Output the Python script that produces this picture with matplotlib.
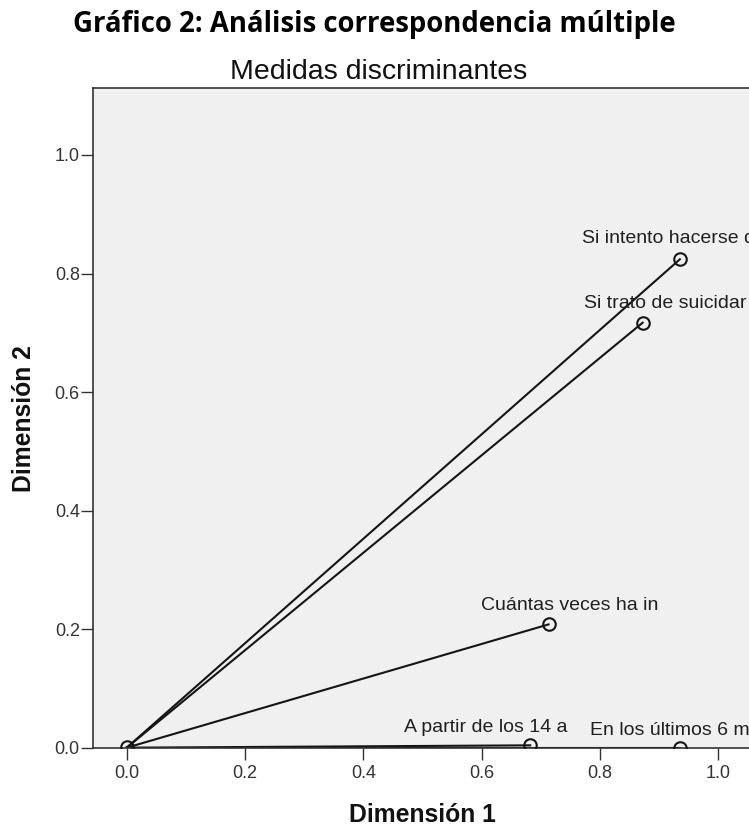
import matplotlib
matplotlib.use("Agg")
import matplotlib.pyplot as plt

# discrimination measures per variable (labels truncated to 20 chars as in SPSS)
variables = ['Si intento hacerse d', 'Si trato de suicidar', 'Cuántas veces ha in',
             'A partir de los 14 a', 'En los últimos 6 me', '']
dim1 = [0.935, 0.872, 0.713, 0.682, 0.935, 0.000]
dim2 = [0.824, 0.717, 0.208, 0.004, 0.000, 0.002]

xticks = [0.0, 0.2, 0.4, 0.6, 0.8, 1.0]
yticks = [0.0, 0.2, 0.4, 0.6, 0.8, 1.0]

# label placement relative to each point, in pixels
label_dx = [-98, -59, -68, -126, -90, 0]
label_dy = [16, 15, 14, 13, 13, 0]

W, H = 749, 827
fig = plt.figure(figsize=(W / 100, H / 100), dpi=100)
ax = fig.add_axes([93 / W, (H - 747.7) / H, (755 - 93) / W, (747.7 - 88) / H])
ax.set_facecolor('#f0f0f0')

ink = '#151515'
for x, y in zip(dim1, dim2):
    ax.plot([0, x], [0, y], color=ink, lw=1.5, zorder=2)
ax.plot(dim1, dim2, 'o', mfc='none', mec=ink, mew=1.5, ms=9, zorder=3)

for name, x, y, dx, dy in zip(variables, dim1, dim2, label_dx, label_dy):
    if not name:
        continue
    ax.annotate(name, (x, y), xytext=(dx, dy), textcoords='offset pixels',
                ha='left', va='baseline', fontsize=14, color='#202020',
                family='Liberation Sans', annotation_clip=False)

ax.set_xlim(-0.057, 1.062)
ax.set_ylim(0, 1.113)
ax.set_xticks(xticks)
ax.set_yticks(yticks)
ax.set_xticklabels([f'{t:.1f}' for t in xticks])
ax.set_yticklabels([f'{t:.1f}' for t in yticks])
ax.tick_params(length=8.5, width=1.0, color='#333333', pad=1,
               labelsize=13, labelcolor='#333333')
ax.tick_params(axis='x', pad=4)
for lab in ax.get_xticklabels() + ax.get_yticklabels():
    lab.set_family('Liberation Sans')
for s in ax.spines.values():
    s.set_color('#333333')
    s.set_linewidth(1.2)

fig.text(374.5 / W, (H - 32) / H, 'Gráfico 2: Análisis correspondencia múltiple',
         ha='center', va='baseline', fontsize=19.8, fontweight='bold',
         family='Open Sans', color='black')
fig.text(379 / W, (H - 79) / H, 'Medidas discriminantes', ha='center',
         va='baseline', fontsize=20.5, family='Liberation Sans', color='#111111')
fig.text(422 / W, (H - 821.7) / H, 'Dimensión 1', ha='center', va='baseline',
         fontsize=17.8, fontweight='bold', family='Liberation Sans', color='#111111')
fig.text(24 / W, (H - 419) / H, 'Dimensión 2', ha='center', va='center',
         rotation=90, fontsize=17.8, fontweight='bold', family='Liberation Sans',
         color='#111111')

fig.savefig('out.png', dpi=100)
